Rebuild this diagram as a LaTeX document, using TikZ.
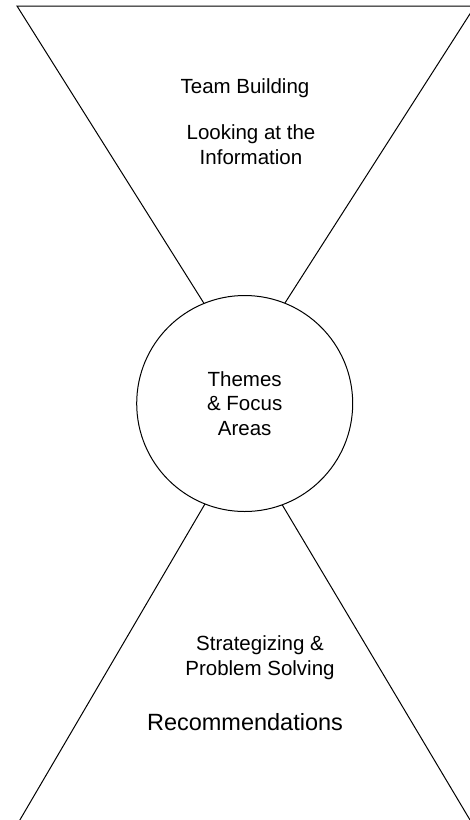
\documentclass[tikz,border=0pt]{standalone}
\usepackage{fontspec}
\setmainfont{Liberation Sans}

\begin{document}
\begin{tikzpicture}[x=1pt, y=-1pt, line width=1pt,
	hub/.style={circle, draw, fill=white, minimum size=216pt, inner sep=0pt, align=center, font=\fontsize{20.5}{24.5}\selectfont},
	lbl/.style={align=center, anchor=base, inner sep=0pt, font=\fontsize{20.5}{24.5}\selectfont}]
	\useasboundingbox (0,0) rectangle (470,820);
	\clip (0,0) rectangle (470,820);

	\coordinate (TL) at (17,6);
	\coordinate (TR) at (475,6);
	\coordinate (TA) at (244,367);
	\coordinate (BA) at (243,439);
	\coordinate (BL) at (14,830);
	\coordinate (BR) at (476,830);

	\draw (TL) -- (TR) -- (TA) -- cycle;
	\draw (BL) -- (BA) -- (BR);

	\node[hub] (H) at (244.7,403.5) {Themes\\ \& Focus\\ Areas};

	% base anchor sits on the last line
	\node[lbl] (T) at (245,93) {Team Building};
	\node[lbl] (L) at (251,164) {Looking at the\\ Information};
	\node[lbl] (S) at (260,675) {Strategizing \&\\ Problem Solving};
	\node[lbl, font=\fontsize{23.5}{28}\selectfont] (R) at (245,730) {Recommendations};
\end{tikzpicture}
\end{document}
